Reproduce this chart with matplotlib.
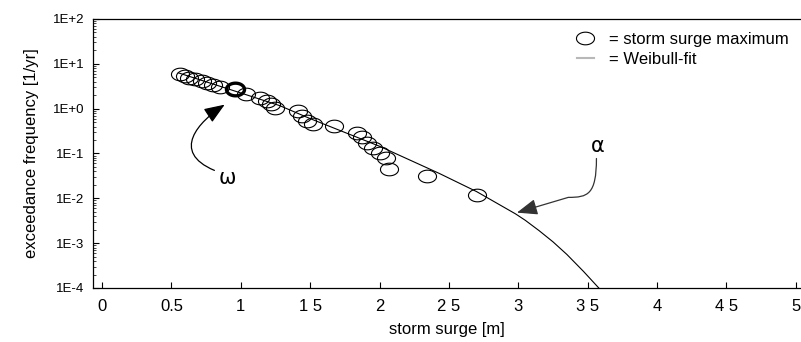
import numpy as np
import matplotlib
matplotlib.use("Agg")
import matplotlib.pyplot as plt
from matplotlib.path import Path
from matplotlib.patches import FancyArrowPatch
from matplotlib.lines import Line2D
from matplotlib.ticker import FixedLocator, LogLocator, NullFormatter

plt.rcParams['font.family'] = ['Liberation Sans', 'DejaVu Sans']

# storm surge maxima and their exceedance frequencies
surge = [0.56, 0.60, 0.63, 0.67, 0.72, 0.76, 0.80, 0.85, 0.96, 1.04, 1.14, 1.19,
         1.22, 1.25, 1.41, 1.44, 1.48, 1.52, 1.67, 1.84, 1.87, 1.91, 1.95, 2.00,
         2.05, 2.07, 2.34, 2.70]
freq = [6.0, 5.3, 4.8, 4.5, 4.2, 3.8, 3.4, 3.0, 2.8, 2.15, 1.75, 1.5,
        1.3, 1.05, 0.9, 0.70, 0.54, 0.46, 0.42, 0.29, 0.23, 0.175, 0.135, 0.105,
        0.078, 0.045, 0.032, 0.012]
highlight = 8  # the event marked with omega

# Weibull fit curve
fit_surge = [0.55, 1.0, 1.28, 1.5, 2.0, 2.43, 2.7, 2.98, 3.05, 3.15, 3.25, 3.35,
             3.47, 3.58]
fit_freq = [6.3, 2.24, 1.17, 0.60, 0.145, 0.036, 0.0141, 0.0045, 0.00324, 0.0019,
            0.00107, 0.00056, 0.000234, 0.0001]

xticks = [0, 0.5, 1, 1.5, 2, 2.5, 3, 3.5, 4, 4.5, 5]
xtick_labels = ["0", "0.5", "1", "1 5", "2", "2 5", "3", "3 5", "4", "4 5", "5"]
yticks = [1e2, 1e1, 1e0, 1e-1, 1e-2, 1e-3, 1e-4]
ytick_labels = ["1E+2", "1E+1", "1E+0", "1E-1", "1E-2", "1E-3", "1E-4"]

# flat ellipse used as the marker
t = np.linspace(0, 2 * np.pi, 73)
ellipse = Path(np.column_stack([np.cos(t), 0.7 * np.sin(t)]), closed=True)

fig = plt.figure(figsize=(8.01, 3.42), dpi=100)
ax = fig.add_axes([93 / 801, 1 - 288 / 342, 707 / 801, 269 / 342])

ax.plot(fit_surge, fit_freq, color="black", lw=0.8, zorder=2)
ax.plot(surge, freq, ls="none", marker=ellipse, ms=13, mfc="none",
        mec="black", mew=0.8, zorder=3)
ax.plot(surge[highlight], freq[highlight], ls="none", marker=ellipse, ms=13,
        mfc="none", mec="black", mew=2.4, zorder=4)

ax.set_yscale("log")
ax.set_xlim(-0.065, 5.03)
ax.set_ylim(1e-4, 1e2)

ax.xaxis.set_major_locator(FixedLocator(xticks))
ax.set_xticklabels(xtick_labels)
ax.yaxis.set_major_locator(FixedLocator(yticks))
ax.set_yticklabels(ytick_labels)
ax.yaxis.set_minor_locator(LogLocator(base=10, subs=np.arange(2, 10)))
ax.yaxis.set_minor_formatter(NullFormatter())

ax.tick_params(axis="x", direction="in", length=4, width=0.8, labelsize=12, pad=8)
ax.tick_params(axis="y", which="major", direction="in", length=4, width=0.8,
               labelsize=9.5, pad=6)
ax.tick_params(axis="y", which="minor", direction="in", length=2, width=0.5)
ax.spines["right"].set_visible(False)
for s in ["left", "bottom", "top"]:
    ax.spines[s].set_linewidth(0.9)

ax.set_xlabel("storm surge [m]", fontsize=12, labelpad=6)
ax.set_ylabel("exceedance frequency [1/yr]", fontsize=12, labelpad=10)

# legend
handles = [
    Line2D([], [], ls="none", marker=ellipse, ms=13, mfc="none", mec="black", mew=0.8),
    Line2D([], [], color="#b8b8b8", lw=1.5),
]
ax.legend(handles, ["= storm surge maximum", "= Weibull-fit"], frameon=False,
          loc="upper left", bbox_to_anchor=(577 / 801, 1 - 32 / 342),
          bbox_transform=fig.transFigure, fontsize=12, borderpad=0,
          borderaxespad=0, handlelength=1.0, handletextpad=0.9, labelspacing=0.3)

# omega annotation
ax.text(0.905, 0.029, "ω", fontsize=15, family="DejaVu Sans", ha="center", va="center")
omega_path = Path([(0.81, 0.042), (0.49, 0.11), (0.70, 0.52), (0.884, 1.23)],
                  [Path.MOVETO, Path.CURVE4, Path.CURVE4, Path.CURVE4])
ax.add_patch(FancyArrowPatch(path=omega_path, arrowstyle="-|>,head_length=0.9,head_width=0.35",
                             mutation_scale=14, color="black", lw=0.9,
                             transform=ax.transData, zorder=5))

# alpha annotation
ax.text(3.57, 0.15, "α", fontsize=15, family="DejaVu Sans", ha="center", va="center")
alpha_path = Path([(3.563, 0.0774), (3.563, 0.012), (3.50, 0.0105), (3.36, 0.0105),
                   (2.99, 0.0048)],
                  [Path.MOVETO, Path.CURVE4, Path.CURVE4, Path.CURVE4, Path.LINETO])
ax.add_patch(FancyArrowPatch(path=alpha_path, arrowstyle="-|>,head_length=0.9,head_width=0.35",
                             mutation_scale=14, color="#333333", lw=0.9,
                             transform=ax.transData, zorder=5))

fig.savefig("out.png", dpi=100)
